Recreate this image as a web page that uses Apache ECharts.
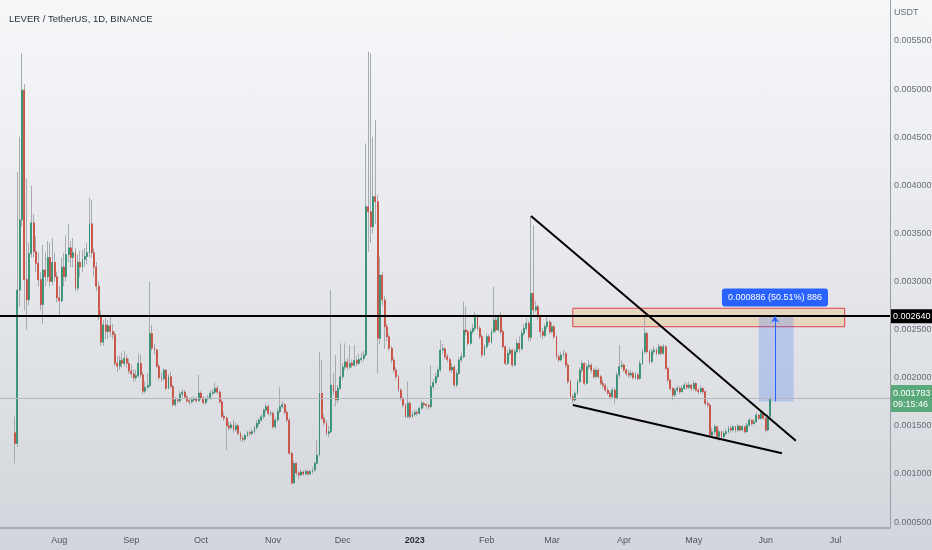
<!DOCTYPE html>
<html>
<head>
<meta charset="utf-8">
<title>LEVER / TetherUS 1D</title>
<script src="https://cdn.jsdelivr.net/npm/echarts@6/dist/echarts.min.js"></script>
<style>
  html, body { margin: 0; padding: 0; }
  #chart {
    width: 932px; height: 550px;
    background: linear-gradient(to bottom, #f6f7f9 0%, #e5e7ea 50%, #d2d5db 100%);
  }
</style>
</head>
<body>
<div id="chart"></div>
<script>
// prices are in micro-USDT (1e-6)
const firstOpen = 1428;
const closes = [
  1317, 2911, 3640, 4990, 3020, 2810, 3290, 3610, 3310, 3190,
  3020, 2760, 3120, 3050, 3250, 3000, 3200, 3050, 2830, 2800,
  3150, 3050, 3280, 3350, 3250, 3300, 2930, 3200, 3150, 3230,
  3260, 3300, 3600, 3300, 3150, 2950, 2650, 2370, 2550, 2480,
  2540, 2480, 2450, 2150, 2120, 2180, 2150, 2200, 2150, 2070,
  2040, 2000, 2020, 2150, 2030, 1860, 1900, 1920, 2460, 2310,
  2290, 2120, 2000, 1990, 2080, 1890, 2010, 1910, 1720, 1770,
  1760, 1830, 1850, 1800, 1760, 1750, 1770, 1780, 1760, 1840,
  1790, 1740, 1780, 1790, 1840, 1850, 1890, 1850, 1750, 1600,
  1580, 1500, 1480, 1510, 1460, 1500, 1420, 1370, 1360, 1400,
  1430, 1420, 1440, 1480, 1525, 1560, 1595, 1664, 1700, 1630,
  1630, 1490, 1560, 1650, 1700, 1720, 1640, 1560, 1215, 905,
  1110, 1010, 990, 1020, 1000, 1025, 1000, 1025, 1040, 1110,
  1196, 1837, 1577, 1530, 1420, 1440, 1924, 1860, 1770, 1890,
  2010, 2110, 2165, 2110, 2150, 2130, 2180, 2150, 2190, 2200,
  2236, 3778, 3726, 3570, 3882, 3830, 2409, 3067, 2808, 2530,
  2426, 2305, 2184, 2080, 2011, 1872, 1786, 1716, 1595, 1734,
  1595, 1620, 1640, 1630, 1682, 1734, 1720, 1710, 1699, 1907,
  1950, 2011, 2080, 2288, 2300, 2219, 2190, 2080, 2110, 1924,
  2045, 2184, 2219, 2496, 2478, 2357, 2480, 2513, 2634, 2513,
  2426, 2236, 2322, 2426, 2370, 2478, 2600, 2496, 2634, 2478,
  2322, 2149, 2253, 2288, 2132, 2271, 2357, 2300, 2461, 2513,
  2565, 2420, 2877, 2704, 2738, 2634, 2479, 2440, 2530, 2580,
  2479, 2530, 2427, 2219, 2184, 2236, 2250, 2132, 1959, 1803,
  1768, 1838, 1959, 2080, 2149, 1942, 2115, 2130, 2080, 2011,
  2080, 2011, 1942, 1920, 1872, 1840, 1803, 1872, 1786, 2028,
  2115, 2132, 2080, 2045, 2028, 2045, 2000, 2030, 1993, 2149,
  2271, 2461, 2271, 2167, 2271, 2288, 2253, 2323, 2253, 2323,
  2097, 1976, 1889, 1820, 1872, 1890, 1855, 1889, 1924, 1900,
  1924, 1889, 1941, 1872, 1855, 1889, 1855, 1733, 1716, 1404,
  1439, 1491, 1387, 1439, 1387, 1422, 1439, 1474, 1456, 1491,
  1456, 1498, 1456, 1491, 1439, 1508, 1560, 1525, 1540, 1612,
  1578, 1630, 1578, 1456, 1600, 1783
];
const highs = [
  1595, 4141, 4505, 5372, 5050, 4070, 3400, 4000, 3700, 3470,
  3300, 3100, 3380, 3300, 3420, 3400, 3450, 3300, 3100, 2950,
  3250, 3300, 3480, 3600, 3420, 3450, 3350, 3280, 3320, 3330,
  3350, 3400, 3870, 3850, 3350, 3200, 3000, 2700, 2600, 2620,
  2600, 2650, 2560, 2480, 2220, 2230, 2260, 2280, 2240, 2200,
  2130, 2090, 2080, 2250, 2240, 2060, 1960, 2050, 2998, 2550,
  2350, 2300, 2140, 2060, 2100, 2090, 2040, 2060, 1930, 1800,
  1790, 1860, 1880, 1870, 1820, 1790, 1800, 1810, 1800, 2028,
  1860, 1810, 1800, 1820, 1870, 1880, 1950, 1920, 1870, 1770,
  1640, 1600, 1540, 1540, 1560, 1530, 1520, 1440, 1400, 1420,
  1450, 1450, 1470, 1500, 1560, 1580, 1620, 1680, 1733, 1720,
  1660, 1650, 1590, 1680, 1900, 1760, 1740, 1660, 1580, 1230,
  1140, 1120, 1030, 1050, 1040, 1050, 1040, 1045, 1070, 1130,
  1352, 2270, 2184, 1620, 1560, 1500, 2911, 2050, 2236, 1920,
  2357, 2150, 2357, 2200, 2340, 2190, 2340, 2220, 2250, 2260,
  2280, 4436, 5389, 5371, 4505, 4678, 3900, 3258, 3100, 2850,
  2560, 2450, 2330, 2210, 2110, 2030, 1890, 1800, 1730, 1959,
  1750, 1650, 1670, 1660, 1700, 1760, 1750, 1740, 1730, 2132,
  1990, 2050, 2110, 2392, 2350, 2320, 2250, 2210, 2150, 2130,
  2080, 2210, 2260, 2790, 2740, 2500, 2510, 2560, 2680, 2660,
  2540, 2450, 2350, 2460, 2450, 2510, 2946, 2630, 2660, 2680,
  2500, 2340, 2290, 2320, 2300, 2300, 2400, 2430, 2500, 2560,
  2620, 2590, 3674, 3587, 2800, 2760, 2650, 2520, 2560, 2650,
  2600, 2580, 2550, 2440, 2250, 2270, 2290, 2270, 2150, 1980,
  1830, 1860, 1990, 2110, 2180, 2160, 2150, 2190, 2150, 2100,
  2110, 2100, 2030, 1980, 1940, 1900, 1860, 1900, 1890, 2060,
  2340, 2180, 2150, 2100, 2080, 2080, 2070, 2060, 2050, 2180,
  2300, 2652, 2480, 2290, 2300, 2330, 2310, 2350, 2340, 2350,
  2340, 2110, 1990, 1900, 1900, 1920, 1910, 1920, 1950, 1950,
  1960, 1940, 1970, 1950, 1890, 1920, 1900, 1870, 1760, 1730,
  1480, 1520, 1500, 1460, 1450, 1450, 1470, 1500, 1500, 1510,
  1500, 1520, 1510, 1510, 1500, 1530, 1580, 1570, 1570, 1640,
  1620, 1650, 1640, 1590, 1620, 1810
];
const lows = [
  1110, 1280, 2740, 3570, 2700, 2500, 2750, 3250, 3250, 3100,
  2950, 2700, 2560, 2950, 3000, 2950, 2960, 3000, 2780, 2640,
  2780, 2950, 3000, 3200, 3150, 3150, 2900, 2900, 3050, 3100,
  3150, 3180, 3250, 3250, 3050, 2900, 2600, 2330, 2330, 2400,
  2400, 2420, 2400, 2120, 2060, 2080, 2100, 2120, 2100, 2040,
  2000, 1960, 1970, 2000, 2000, 1830, 1840, 1880, 1900, 2280,
  2240, 2100, 1980, 1960, 1970, 1870, 1880, 1890, 1700, 1700,
  1730, 1740, 1800, 1780, 1740, 1720, 1730, 1750, 1740, 1750,
  1770, 1720, 1720, 1760, 1770, 1810, 1830, 1830, 1730, 1580,
  1550, 1248, 1450, 1460, 1430, 1440, 1400, 1340, 1330, 1340,
  1380, 1390, 1400, 1420, 1460, 1500, 1540, 1570, 1640, 1610,
  1600, 1470, 1470, 1540, 1630, 1680, 1620, 1540, 1200, 890,
  900, 980, 950, 970, 980, 985, 980, 990, 1000, 1020,
  1100, 1180, 1560, 1500, 1400, 1380, 1420, 1820, 1700, 1740,
  1870, 1980, 2080, 2080, 2090, 2100, 2110, 2120, 2130, 2160,
  2170, 2220, 3310, 3400, 3500, 3600, 2045, 2350, 2750, 2300,
  2380, 2280, 2150, 2050, 1980, 1850, 1760, 1690, 1580, 1580,
  1570, 1580, 1600, 1600, 1610, 1660, 1690, 1680, 1670, 1680,
  1880, 1930, 1990, 2060, 2250, 2190, 2160, 2060, 2050, 1900,
  1900, 2030, 2160, 2200, 2440, 2330, 2340, 2460, 2490, 2490,
  2400, 2210, 2220, 2300, 2340, 2350, 2460, 2470, 2480, 2450,
  2300, 2130, 2130, 2230, 2110, 2120, 2250, 2260, 2280, 2430,
  2490, 2380, 2380, 2650, 2680, 2600, 2420, 2400, 2420, 2500,
  2450, 2460, 2400, 2190, 2160, 2170, 2210, 2100, 1930, 1780,
  1734, 1750, 1820, 1940, 2050, 1920, 1930, 2090, 2050, 1990,
  1990, 1990, 1920, 1890, 1850, 1820, 1780, 1790, 1734, 1770,
  2000, 2090, 2060, 2020, 2000, 2000, 1980, 1980, 1970, 1980,
  2130, 2250, 2250, 2140, 2150, 2240, 2230, 2240, 2230, 2240,
  2080, 1950, 1860, 1768, 1800, 1850, 1830, 1840, 1870, 1880,
  1880, 1860, 1870, 1850, 1830, 1840, 1830, 1710, 1690, 1380,
  1380, 1410, 1360, 1335, 1360, 1370, 1400, 1420, 1430, 1440,
  1430, 1440, 1440, 1440, 1420, 1430, 1490, 1500, 1510, 1530,
  1560, 1560, 1560, 1430, 1440, 1580
];

// daily categories: first one is 2022-07-07, first candle six days later
const leadBlank = 6;
const dayCount = 383;
const monthNames = ['', 'Feb', 'Mar', 'Apr', 'May', 'Jun', 'Jul', 'Aug', 'Sep', 'Oct', 'Nov', 'Dec'];
const priceTicks = [500, 1000, 1500, 2000, 2500, 3000, 3500, 4000, 4500, 5000, 5500];

// drawings on the chart (category index, price)
const resistance = 2640;
const lastPrice = 1783;
const countdown = '09:15:46';
const zone = {left: 246, right: 363, top: 2722, bottom: 2530};
const upperTrend = [[228, 3681], [342, 1345]];
const lowerTrend = [[246, 1716], [336, 1214]];
const measure = {left: 326, right: 341, arrow: 333, base: 1754, top: 2640, labelAt: 2834};
const measureText = '0.000886 (50.51%) 886';

const upColor = '#2f8f70';
const downColor = '#cc4a3b';
const wickColor = '#a7aab0';
const font = "'Liberation Sans', Arial, sans-serif";

let priceFmt = function (v) {
  return (v / 1e6).toFixed(6);
};

let categories = [];
for (let i = 0; i < dayCount; i++) {
  let d = new Date(Date.UTC(2022, 6, 7 + i));
  categories.push(d.toISOString().slice(0, 10));
}

let wickData = [];
let bodyData = [];
closes.forEach(function (c, k) {
  let o = k === 0 ? firstOpen : closes[k - 1];
  wickData.push([k + leadBlank, o, c, lows[k], highs[k]]);
  bodyData.push([k + leadBlank, o, c, Math.min(o, c), Math.max(o, c)]);
});

let chart = echarts.init(document.getElementById('chart'));
chart.setOption({
  animation: false,
  backgroundColor: 'transparent',
  textStyle: {fontFamily: font},
  title: {
    text: 'LEVER / TetherUS, 1D, BINANCE', left: 4, top: 9,
    textStyle: {fontSize: 9.5, fontWeight: 'normal', color: '#2a2e39', fontFamily: font}
  },
  graphic: [
    {type: 'text', left: 894, top: 8, style: {text: 'USDT', fill: '#6a6d78', fontSize: 9, fontFamily: font}}
  ],
  grid: {left: 0, right: 42, top: 0, bottom: 22, containLabel: false, outerBoundsMode: 'none'},
  xAxis: {
    type: 'category', data: categories, boundaryGap: true,
    axisLine: {lineStyle: {color: '#9a9da5', width: 1.5}},
    axisTick: {show: false},
    splitLine: {show: false},
    axisLabel: {
      margin: 8, fontSize: 9, color: '#50535e',
      interval: function (idx, val) {
        return val.slice(8) === '01';
      },
      formatter: function (val) {
        let m = parseInt(val.slice(5, 7), 10) - 1;
        return m === 0 ? '{y|' + val.slice(0, 4) + '}' : monthNames[m];
      },
      rich: {y: {fontSize: 9, fontWeight: 'bold', color: '#2a2e39', fontFamily: font}}
    }
  },
  yAxis: {
    type: 'value', position: 'right', min: 438, max: 5926, scale: true,
    axisLine: {show: true, lineStyle: {color: '#9a9da5', width: 1}},
    axisTick: {show: false},
    splitLine: {show: false},
    axisLabel: {
      customValues: priceTicks, margin: 4, fontSize: 9, color: '#6a6d78',
      formatter: priceFmt
    }
  },
  series: [
    {
      name: 'wick', type: 'candlestick', data: wickData, large: false,
      encode: {x: 0, y: [1, 2, 3, 4]},
      barWidth: 1,
      itemStyle: {color: wickColor, color0: wickColor, borderColor: wickColor, borderColor0: wickColor, borderWidth: 1},
      silent: true, z: 2
    },
    {
      name: 'LEVERUSDT', type: 'candlestick', data: bodyData, large: false,
      encode: {x: 0, y: [1, 2, 3, 4]},
      barWidth: 1.4,
      itemStyle: {color: upColor, color0: downColor, borderColor: upColor, borderColor0: downColor, borderWidth: 0.8},
      silent: true, z: 3,
      markArea: {
        silent: true,
        data: [
          [
            {coord: [zone.left, zone.top], itemStyle: {color: 'rgba(255,152,0,0.18)', borderColor: '#e0434f', borderWidth: 1}},
            {coord: [zone.right, zone.bottom]}
          ],
          [
            {coord: [measure.left, measure.top], itemStyle: {color: 'rgba(41,98,255,0.22)'}},
            {coord: [measure.right, measure.base]}
          ]
        ]
      },
      markLine: {
        silent: true, symbol: ['none', 'none'],
        label: {show: false},
        data: [
          {
            yAxis: resistance,
            lineStyle: {color: '#000', width: 2, type: 'solid'},
            label: {
              show: true, position: 'end', distance: 1, formatter: priceFmt(resistance),
              backgroundColor: '#000', color: '#fff', padding: [3, 2, 2, 2], fontSize: 9, fontFamily: font
            }
          },
          {
            yAxis: lastPrice,
            lineStyle: {color: '#b4b7be', width: 1, type: 'solid'},
            label: {
              show: true, position: 'end', distance: 1,
              formatter: priceFmt(lastPrice) + '\n' + countdown,
              backgroundColor: '#5aa97a', color: '#fff', padding: [3, 2, 2, 2],
              lineHeight: 11, fontSize: 9, fontFamily: font
            }
          },
          [
            {coord: upperTrend[0], lineStyle: {color: '#000', width: 2, type: 'solid'}},
            {coord: upperTrend[1]}
          ],
          [
            {coord: lowerTrend[0], lineStyle: {color: '#000', width: 2, type: 'solid'}},
            {coord: lowerTrend[1]}
          ],
          [
            {coord: [measure.arrow, measure.base], lineStyle: {color: '#2962ff', width: 1, type: 'solid'}},
            {coord: [measure.arrow, measure.top], symbol: 'arrow', symbolSize: [6, 6]}
          ]
        ]
      },
      markPoint: {
        silent: true,
        data: [
          {
            coord: [measure.arrow, measure.labelAt],
            symbol: 'rect', symbolSize: 0,
            label: {
              show: true, position: 'inside', formatter: measureText, color: '#fff',
              fontSize: 9, fontFamily: font,
              backgroundColor: '#2962ff', padding: [5, 6, 4, 6], borderRadius: 3
            }
          }
        ]
      }
    }
  ]
});
</script>
</body>
</html>
